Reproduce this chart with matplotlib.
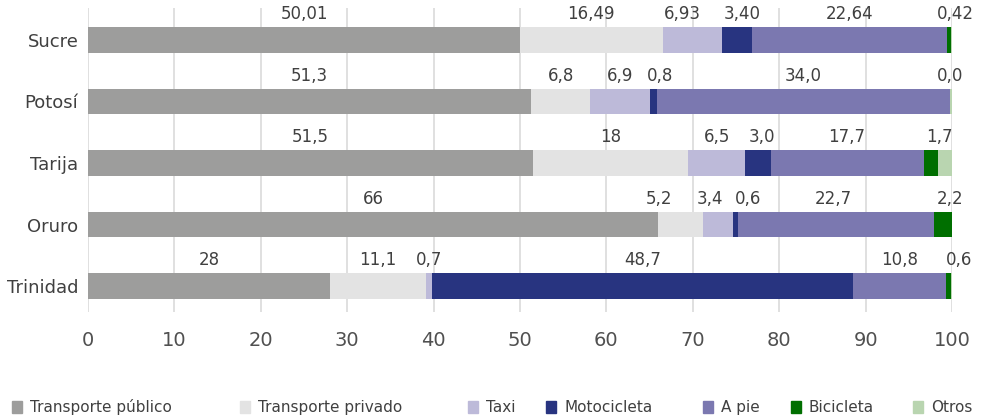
import matplotlib.pyplot as plt
from matplotlib.patches import Rectangle

cities = ["Sucre", "Potosí", "Tarija", "Oruro", "Trinidad"]
modes = ["Transporte público", "Transporte privado", "Taxi", "Motocicleta",
         "A pie", "Bicicleta", "Otros"]

publico = [50.01, 51.3, 51.5, 66, 28]
privado = [16.49, 6.8, 18, 5.2, 11.1]
taxi = [6.93, 6.9, 6.5, 3.4, 0.7]
moto = [3.40, 0.8, 3.0, 0.6, 48.7]
a_pie = [22.64, 34.0, 17.7, 22.7, 10.8]
bici = [0.42, 0.0, 1.7, 2.2, 0.6]
otros = [0.11, 0.2, 1.6, 0.0, 0.1]

# value labels as printed above each segment (Otros is never labelled)
lab_publico = ["50,01", "51,3", "51,5", "66", "28"]
lab_privado = ["16,49", "6,8", "18", "5,2", "11,1"]
lab_taxi = ["6,93", "6,9", "6,5", "3,4", "0,7"]
lab_moto = ["3,40", "0,8", "3,0", "0,6", "48,7"]
lab_a_pie = ["22,64", "34,0", "17,7", "22,7", "10,8"]
lab_bici = ["0,42", "0,0", "1,7", "2,2", "0,6"]

series = [publico, privado, taxi, moto, a_pie, bici, otros]
labels = [lab_publico, lab_privado, lab_taxi, lab_moto, lab_a_pie, lab_bici, None]
colors = ["#9d9d9c", "#e3e3e3", "#bdbad9", "#283480", "#7b78b0", "#006f00", "#b9d5b0"]

# sideways label shifts in pixels so crowded labels don't collide
shift_px = [
    [0, 0, 0, 0, 0],
    [0, 0, 0, -22, 0],
    [-10, 0, 0, -8, 0],
    [5, 7, 4, 13, 0],
    [0, 0, 0, -3, 0],
    [6, 0, 9, 7, 10],
    [0, 0, 0, 0, 0],
]

txt = "#404040"
plt.rcParams["font.family"] = "DejaVu Sans"

fig = plt.figure(figsize=(9.83, 4.17), dpi=100)
ax = fig.add_axes([0.0895, 0.252, 0.879, 0.729])

ypos = list(range(len(cities)))
left = [0.0] * len(cities)
for vals, labs, col, sh in zip(series, labels, colors, shift_px):
    ax.barh(ypos, vals, left=left, height=0.41, color=col, zorder=3)
    if labs is not None:
        for i, (v, l) in enumerate(zip(vals, labs)):
            ax.annotate(l, (left[i] + v / 2, i - 0.42), xytext=(sh[i] * 0.72, 0),
                        textcoords="offset points", ha="center", va="center",
                        fontsize=12, color=txt)
    left = [a + b for a, b in zip(left, vals)]

ax.set_xlim(0, 100)
ax.set_ylim(4.42, -0.52)
ax.set_xticks(range(0, 101, 10))
ax.set_yticks(ypos)
ax.set_yticklabels(cities, fontsize=13, color=txt)
ax.tick_params(axis="x", length=0, pad=14, labelsize=14, labelcolor="#505050")
ax.tick_params(axis="y", length=0, pad=7)
ax.grid(axis="x", color="#dadada", linewidth=1.2, zorder=0)
for s in ax.spines.values():
    s.set_visible(False)

# legend row along the bottom
leg_x = [12, 240, 468, 546, 703, 791, 913]
W, H = 983, 417
for name, col, x in zip(modes, colors, leg_x):
    fig.patches.append(Rectangle((x / W, (H - 413) / H), 10 / W, 12 / H,
                                 transform=fig.transFigure, color=col))
    fig.text((x + 18) / W, (H - 412) / H, name, fontsize=11, color=txt,
             va="baseline", ha="left")

fig.savefig("out.png", dpi=100)
